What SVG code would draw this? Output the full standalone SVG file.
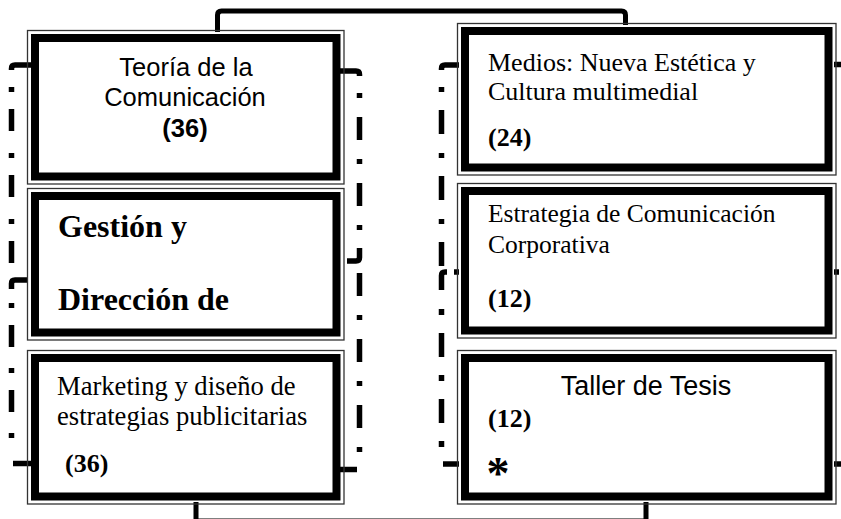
<svg xmlns="http://www.w3.org/2000/svg" width="841" height="519" viewBox="0 0 841 519">
<style>
.o{fill:none;stroke:#333;stroke-width:1.3}
.i{fill:#fff;stroke:#000;stroke-width:8}
.c{fill:none;stroke:#000;stroke-width:5.5}
.s{fill:none;stroke:#000;stroke-width:5}
.a{font-family:"Liberation Sans",Arial,sans-serif;fill:#000}
.t{font-family:"Liberation Serif","Times New Roman",serif;fill:#000}
.b{font-weight:bold}
</style>
<rect width="841" height="519" fill="#fff"/>
<g id="connectors">
  <path class="s" d="M217.5,32 V15 Q217.5,11 221.5,11 H621.5 Q625.5,11 625.5,15 V25"/>
  <path class="s" d="M196,502 V521 H646 V502"/>
  <path class="c" d="M33,65 H15 Q11.5,65 11.5,68.5 V70"/>
  <path class="c" d="M11.5,87 V267" stroke-dasharray="5 17 22 22"/>
  <path class="c" d="M27,280 H15 Q11.5,280 11.5,283.5 V289"/>
  <path class="c" d="M11.5,303 V438" stroke-dasharray="5 17 22 21"/>
  <path class="c" d="M13,463.5 H32"/>
  <path class="c" d="M339,71 H356 Q359.5,71 359.5,74.5 V76"/>
  <path class="c" d="M359.5,93 V230" stroke-dasharray="5 19 23 19"/>
  <path class="c" d="M359.5,248 V257.5 Q359.5,261 356,261 H347"/>
  <path class="c" d="M359.5,273 V452" stroke-dasharray="23 19 5 19"/>
  <path class="c" d="M339,469.5 H357"/>
  <path class="c" d="M459,65 H445 Q441.5,65 441.5,68.5 V70"/>
  <path class="c" d="M441.5,87 V266" stroke-dasharray="5 18 24 19"/>
  <path class="c" d="M441.5,290 V275.5 Q441.5,272 445,272 H447"/>
  <path class="c" d="M454,272 H459"/>
  <path class="c" d="M441.5,309 V447" stroke-dasharray="6 18 24 18"/>
  <path class="c" d="M443,464 H459"/>
  <path class="c" d="M834,64.5 H841"/>
  <path class="c" d="M834,272 H839"/>
  <path class="c" d="M834,464 H841"/>
</g>
<g id="teoria">
  <rect class="o" x="27.5" y="30.5" width="316.5" height="153.5"/>
  <rect class="i" x="35" y="38" width="301.5" height="138.5"/>
  <text class="a" x="186" y="76" font-size="25.5" text-anchor="middle">Teoría de la</text>
  <text class="a" x="185" y="106" font-size="25.5" text-anchor="middle">Comunicación</text>
  <text class="a b" x="185" y="137" font-size="25.5" text-anchor="middle">(36)</text>
</g>
<g id="gestion">
  <rect class="o" x="27.5" y="188.5" width="316.5" height="151.5"/>
  <rect class="i" x="35" y="196" width="301.5" height="136.5"/>
  <text class="t b" x="58" y="237" font-size="32">Gestión y</text>
  <text class="t b" x="58" y="310" font-size="32">Dirección de</text>
</g>
<g id="marketing">
  <rect class="o" x="27.5" y="350.5" width="316.5" height="153.5"/>
  <rect class="i" x="35" y="358" width="301.5" height="138.5"/>
  <text class="t" x="57" y="395" font-size="26.6">Marketing y diseño de</text>
  <text class="t" x="57" y="425" font-size="26.6">estrategias publicitarias</text>
  <text class="t b" x="65" y="472" font-size="26">(36)</text>
</g>
<g id="medios">
  <rect class="o" x="457.5" y="23.5" width="378.5" height="151.5"/>
  <rect class="i" x="465" y="31" width="363.5" height="136.5"/>
  <text class="t" x="488" y="71" font-size="26">Medios: Nueva Estética y</text>
  <text class="t" x="488" y="100" font-size="26">Cultura multimedial</text>
  <text class="t b" x="488" y="146" font-size="26">(24)</text>
</g>
<g id="estrategia">
  <rect class="o" x="457.5" y="183.5" width="378.5" height="154.5"/>
  <rect class="i" x="465" y="191" width="363.5" height="139.5"/>
  <text class="t" x="488" y="222" font-size="25.5">Estrategia de Comunicación</text>
  <text class="t" x="488" y="253" font-size="25.5">Corporativa</text>
  <text class="t b" x="488" y="307" font-size="26">(12)</text>
</g>
<g id="taller">
  <rect class="o" x="457.5" y="350.5" width="378.5" height="153.5"/>
  <rect class="i" x="465" y="358" width="363.5" height="138.5"/>
  <text class="a" x="646" y="395" font-size="27" text-anchor="middle">Taller de Tesis</text>
  <text class="t b" x="488" y="427" font-size="26">(12)</text>
  <text class="t b" x="486.5" y="489" font-size="46">*</text>
</g>
</svg>
